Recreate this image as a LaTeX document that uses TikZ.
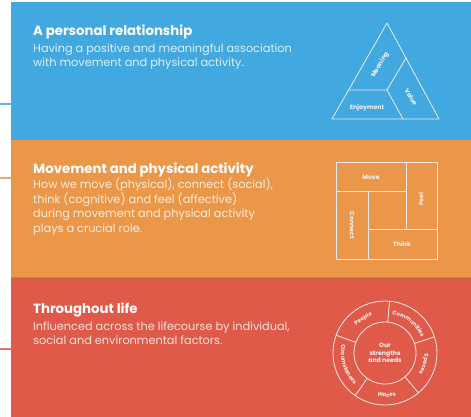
\documentclass[tikz,border=0pt]{standalone}
\usepackage{fontspec}
\setmainfont{Poppins}
\usetikzlibrary{positioning, decorations.text}
\definecolor{bandblue}{HTML}{42A8E0}
\definecolor{bandorange}{HTML}{EA974A}
\definecolor{bandred}{HTML}{E05A4A}
\newcommand{\tagfont}{\fontsize{6.2}{7}\selectfont\bfseries}
\newcommand{\ringfont}{\fontsize{5.5}{6}\selectfont\bfseries}
\tikzset{
  headline/.style={anchor=base west, inner sep=0pt, text=white, font=\fontsize{13.3}{15}\selectfont\bfseries},
  blurb/.style={anchor=base west, inner sep=0pt, align=left, font=\fontsize{11.3}{14.5}\selectfont},
  icon/.style={draw=white!92!black, line width=0.8pt, line join=round},
  tag/.style={inner sep=0pt, text=white!95!black, font=\tagfont},
  ringtag/.style={decorate, decoration={text along path, text align=center, text color=white!95!black, text={|\ringfont|#1}}},
}
\begin{document}
\begin{tikzpicture}[x=1pt, y=-1pt]
\useasboundingbox (0,0) rectangle (471,417);
\fill[white] (0,0) rectangle (471,417);
% bands
\fill[bandblue] (11,2) rectangle (471,140);
\fill[bandorange] (11,140) rectangle (471,278);
\fill[bandred] (11,278) rectangle (471,417);
\fill[bandorange!75!black, opacity=0.5] (11,277) rectangle (471,279.5);
% side ticks
\draw[bandblue!85!white, line width=1.2pt] (0,104) -- (11,104);
\draw[bandorange!85!white, line width=1.2pt] (0,178) -- (11,178);
\draw[bandred!85!white, line width=1.2pt] (0,349) -- (11,349);

% texts (base = last line)
\node[headline] (reltitle) at (33,36) {A personal relationship};
\node[blurb, text=bandblue!18!white] (reltext) at (33,67)
  {Having a positive and meaningful association\\with movement and physical activity.};
\node[headline] (acttitle) at (33,173) {Movement and physical activity};
\node[blurb, text=bandorange!18!white] (acttext) at (33,232)
  {How we move (physical), connect (social),\\think (cognitive) and feel (affective)\\during movement and physical activity\\plays a crucial role.};
\node[headline] (lifetitle) at (33,313) {Throughout life};
\node[blurb, text=bandred!18!white] (lifetext) at (33,344.5)
  {Influenced across the lifecourse by individual,\\social and environmental factors.};

% triangle
\coordinate (apex) at (387,23);
\coordinate (baseleft) at (332,119);
\coordinate (baseright) at (439,119);
\coordinate (fork) at (387,90);
\draw[icon] (apex) -- (baseleft) -- (baseright) -- cycle;
\draw[icon] (348.6,90) -- (fork) -- (406,58);
\draw[icon] (fork) -- (403,119);
\node[tag, rotate=60] (meaning) at (380,65) {Meaning};
\node[tag, rotate=-60] (value) at (411,97) {Value};
\node[tag] (enjoy) at (367,108) {Enjoyment};

% square
\draw[icon] (336,162) rectangle (437,259);
\draw[icon] (336,191) -- (406,191);
\draw[icon] (406,162) -- (406,229);
\draw[icon] (368,229) -- (437,229);
\draw[icon] (368,191) -- (368,259);
\node[tag] (move) at (371,177) {Move};
\node[tag, rotate=90] (feel) at (421,199) {Feel};
\node[tag, rotate=-90] (connect) at (352,225) {Connect};
\node[tag] (think) at (402,244) {Think};

% wheel
\begin{scope}[shift={(385,353)}]
\draw[icon] (0,0) circle (52pt);
\draw[icon] (0,0) circle (31pt);
\foreach \a in {85,18,-50,-125,160}
  \draw[icon] (\a:31pt) -- (\a:52pt);
\node[tag, align=center, font=\fontsize{6.2}{7.5}\selectfont\bfseries] (core) at (0,0) {Our\\strengths\\and needs};
\path[ringtag=People] (158:39.5pt) arc[start angle=158, end angle=87, radius=39.5pt];
\path[ringtag=Communities] (84:39.5pt) arc[start angle=84, end angle=19, radius=39.5pt];
\path[ringtag=Spaces] (16:39.5pt) arc[start angle=16, end angle=-48, radius=39.5pt];
\path[ringtag=Places] (-123:44pt) arc[start angle=-123, end angle=-52, radius=44pt];
\path[ringtag=Circumstances] (161:44pt) arc[start angle=161, end angle=234, radius=44pt];
\end{scope}
\end{tikzpicture}
\end{document}
